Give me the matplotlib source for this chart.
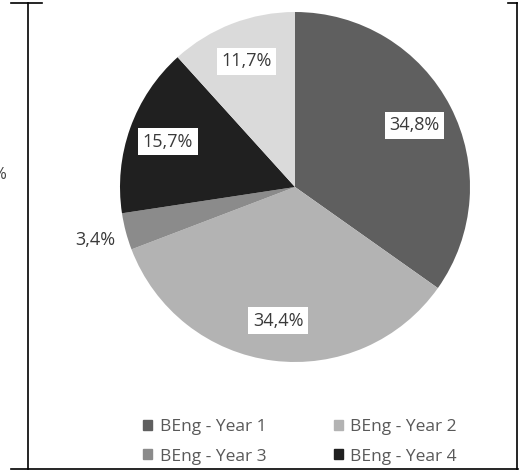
import matplotlib
matplotlib.use('Agg')
import matplotlib.pyplot as plt
import numpy as np
from matplotlib.lines import Line2D
from matplotlib.patches import Patch

plt.rcParams['font.family'] = ['Open Sans', 'DejaVu Sans']

LABELS = ['BEng - Year 1', 'BEng - Year 2', 'BEng - Year 3', 'BEng - Year 4', '']
SHARES = [34.8, 34.4, 3.4, 15.7, 11.7]
COLORS = ['#5f5f5f', '#b3b3b3', '#8b8b8b', '#202020', '#dadada']

W, H = 519, 470
CX, CY, R = 295, H - 187, 175
fig = plt.figure(figsize=(W / 100, H / 100), dpi=100)
ax = fig.add_axes([0, 0, 1, 1])

wedges, texts, autotexts = ax.pie(
    SHARES, colors=COLORS, startangle=90, counterclock=False,
    center=(CX, CY), radius=R, frame=True,
    autopct=lambda p: f'{p:.1f}%'.replace('.', ','), pctdistance=0.77,
    textprops=dict(fontsize=13, color='#3a3a3a'),
)
for w, t in zip(wedges, autotexts):
    if abs(w.theta2 - w.theta1) < 20:
        # small slice: label outside, no box
        ang = np.deg2rad((w.theta1 + w.theta2) / 2)
        t.set_position((CX + 1.18 * R * np.cos(ang), CY + 1.18 * R * np.sin(ang)))
    else:
        t.set_bbox(dict(boxstyle='square,pad=0.25', fc='white', ec='none'))

ax.set_xlim(0, W)
ax.set_ylim(0, H)
ax.set_aspect('auto')
ax.axis('off')

# legend filled row by row like the original
order = [0, 2, 1, 3]
handles = [Patch(color=COLORS[i]) for i in order]
fig.legend(handles, [LABELS[i] for i in order], ncol=2, loc='center',
           bbox_to_anchor=(300 / W, 1 - 442 / H),
           frameon=False, fontsize=12.5, labelcolor='#595959', handlelength=0.5, handleheight=0.5,
           handletextpad=0.45, columnspacing=3.9, labelspacing=0.75)

# frame lines of the surrounding box
def seg(x0, y0, x1, y1):
    fig.add_artist(Line2D([x0 / W, x1 / W], [1 - y0 / H, 1 - y1 / H], color='black', lw=1.2,
                          transform=fig.transFigure))

seg(28, 3, 28, 469)
seg(517, 3, 517, 469)
seg(11, 469, 518, 469)
seg(11, 3, 42, 3)
seg(508, 3, 517, 3)

fig.text(6 / W, 1 - 175 / H, '%', ha='right', va='center', fontsize=12, color='#404040')

fig.savefig('out.png', dpi=100)
